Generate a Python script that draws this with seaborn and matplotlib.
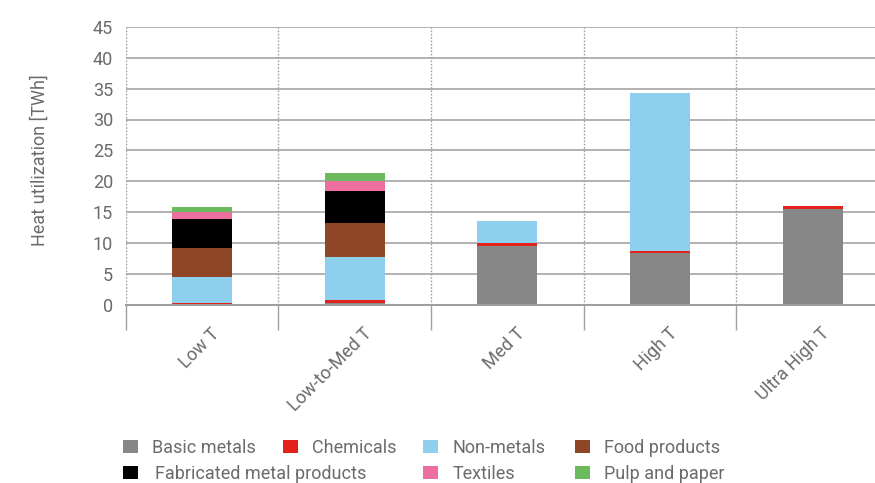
import matplotlib
matplotlib.use("Agg")
import matplotlib.pyplot as plt
import matplotlib.patches as mpatches
import matplotlib.transforms as mtransforms
import numpy as np
import seaborn as sns

# ---- data ----
categories = ["Low T", "Low-to-Med T", "Med T", "High T", "Ultra High T"]
sectors = ["Basic metals", "Chemicals", "Non-metals", "Food products",
           "Fabricated metal products", "Textiles", "Pulp and paper"]
basic_metals = [0.05, 0.3, 9.5, 8.35, 15.55]
chemicals = [0.2, 0.35, 0.45, 0.4, 0.45]
non_metals = [4.2, 7.1, 3.55, 25.6, 0.0]
food_products = [4.75, 5.5, 0.0, 0.0, 0.0]
fabricated_metal = [4.6, 5.1, 0.0, 0.0, 0.0]
textiles = [1.2, 1.7, 0.0, 0.0, 0.0]
pulp_paper = [0.75, 1.25, 0.0, 0.0, 0.0]
y_ticks = [0, 5, 10, 15, 20, 25, 30, 35, 40, 45]

series = [basic_metals, chemicals, non_metals, food_products,
          fabricated_metal, textiles, pulp_paper]
colors = ["#878787", "#e3221b", "#8ecfee", "#8f4626", "#000000", "#ec6fa0", "#6dba5e"]

sns.set_theme(style="white")
plt.rcParams["font.family"] = ["Roboto", "DejaVu Sans"]
TXT = "#6b6b6b"
GRID = "#9d9d9d"
FS = 13

W, H = 875, 483
fig = plt.figure(figsize=(W / 100, H / 100), dpi=100)
ax = fig.add_axes([125.6 / W, (H - 304.5) / H, (W - 125.6) / W, 277.5 / H])

bottom = np.zeros(len(categories))
for vals, col in zip(series, colors):
    sns.barplot(x=categories, y=vals, bottom=bottom, color=col, width=0.393,
                errorbar=None, linewidth=0, saturation=1, ax=ax, zorder=3)
    bottom = bottom + np.array(vals)

ax.set_xlim(-0.5, 4.407)
ax.set_ylim(0, 45)
ax.set_yticks(y_ticks)
ax.set_yticklabels([str(t) for t in y_ticks])
ax.yaxis.grid(True, color=GRID, lw=1.1, zorder=0)
ax.set_axisbelow(True)
for s in ["top", "right", "left"]:
    ax.spines[s].set_visible(False)
ax.spines["bottom"].set_color(GRID)
ax.spines["bottom"].set_linewidth(1.4)
ax.spines["bottom"].set_zorder(4)

# category separators
seps = np.arange(len(categories)) - 0.5
for xs in seps:
    ax.axvline(xs, color="#a0a0a0", lw=1.0, ls=(0, (1.2, 1.2)), zorder=1)
ax.set_xticks(seps, minor=True)
ax.tick_params(axis="x", which="minor", length=17.8, width=1.0, color="#a0a0a0",
               direction="out", bottom=True)
ax.tick_params(axis="x", which="major", length=0, pad=14.5, labelsize=FS, labelcolor=TXT)
ax.tick_params(axis="y", length=0, pad=9, labelsize=FS, labelcolor=TXT)

ax.set_xticks(range(len(categories)))
ax.set_xticklabels(categories, rotation=45, ha="right", va="top", rotation_mode="anchor")
off = mtransforms.ScaledTranslation(8 / 100, 0, fig.dpi_scale_trans)
for lab in ax.get_xticklabels():
    lab.set_transform(lab.get_transform() + off)

ax.set_xlabel("")
ax.set_ylabel("Heat utilization [TWh]", fontsize=FS, color=TXT)
ax.yaxis.set_label_coords((40 - 125.6) / (W - 125.6), (304.5 - 160) / 277.5)
ax.yaxis.label.set_va("center")

# legend: individual entries placed to match the reference layout
fpx = FS * 100 / 72
leg_pos = [(122.7, 448), (282.7, 448), (423.3, 448), (575.0, 448),
           (122.7, 474), (423.3, 474), (575.0, 474)]
for lab, col, (lx, ly) in zip(sectors, colors, leg_pos):
    pad = 14 / fpx if lab != "Fabricated metal products" else 17 / fpx
    h = mpatches.Patch(facecolor=col, edgecolor="none")
    lg = fig.legend(handles=[h], labels=[lab], loc="center left",
                    bbox_to_anchor=(lx / W, 1 - ly / H), frameon=False,
                    borderpad=0, borderaxespad=0, handlelength=15 / fpx,
                    handleheight=14 / fpx, handletextpad=pad, fontsize=FS)
    for t in lg.get_texts():
        t.set_color(TXT)

fig.savefig("out.png", dpi=100)
